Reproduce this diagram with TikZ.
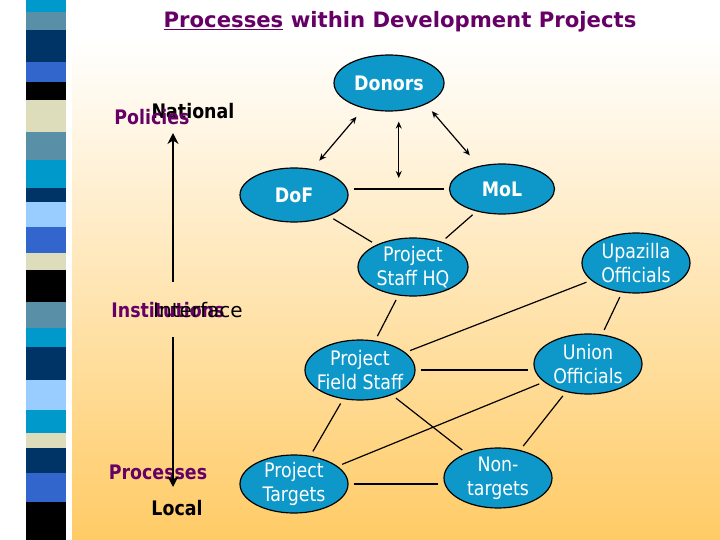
\documentclass[tikz,border=0pt]{standalone}
\usepackage{fontspec}
\setmainfont{DejaVu Sans}
\newfontfamily\tahoma[FakeStretch=0.87]{DejaVu Sans}
\usetikzlibrary{arrows.meta,shapes.geometric,calc}
\definecolor{projblue}{HTML}{0D98C9}
\definecolor{projpurple}{HTML}{660066}
\definecolor{bgorange}{HTML}{FFCB66}
\definecolor{bgpeach}{HTML}{FDE3C4}
\definecolor{stripcyan}{HTML}{0099CC}
\definecolor{stripsteel}{HTML}{5A8FA8}
\definecolor{stripnavy}{HTML}{003366}
\definecolor{stripblue}{HTML}{3366CC}
\definecolor{stripbeige}{HTML}{DDDDBB}
\definecolor{striplight}{HTML}{99CCFF}

\begin{document}
\begin{tikzpicture}[
  x=1pt, y=-1pt,
  utext/.style={text=white, align=center, inner sep=0pt,
                font=\tahoma\fontsize{20}{24}\selectfont},
  unit/.style={ellipse, draw=black, line width=1.2pt, fill=projblue,
               minimum width=108pt, minimum height=57pt, inner sep=0pt,
               label={[utext]center:#1}},
  unitb/.style={unit={\bfseries #1}},
  link/.style={black, line width=1.2pt, shorten <=5pt, shorten >=5pt},
  dbl/.style={{Stealth[length=7pt,width=6pt]}-{Stealth[length=7pt,width=6pt]},
              black, line width=1.2pt, shorten <=11pt, shorten >=11pt},
  axis/.style={-{Stealth[length=11pt,width=11pt]}, black, line width=2.8pt},
  lvl/.style={font=\tahoma\fontsize{20}{24}\selectfont\bfseries,
              inner sep=0pt, anchor=base},
  cat/.style={lvl, text=projpurple},
]
\useasboundingbox (0,0) rectangle (720,540);

% ---------------- slide background ----------------------------------
\fill[white] (0,0) rectangle (720,540);
\shade[top color=white, middle color=bgpeach, bottom color=bgorange]
  (72,40) rectangle (720,540);
\foreach \ya/\yb/\c in {0/12/stripcyan, 12/30/stripsteel, 30/62/stripnavy,
    62/82/stripblue, 82/100/black, 100/132/stripbeige, 132/160/stripsteel,
    160/188/stripcyan, 188/202/stripnavy, 202/227/striplight,
    227/253/stripblue, 253/270/stripbeige, 270/302/black,
    302/328/stripsteel, 328/347/stripcyan, 347/380/stripnavy,
    380/410/striplight, 410/433/stripcyan, 433/448/stripbeige,
    448/473/stripnavy, 473/502/stripblue, 502/540/black}
  \fill[\c] (26,\ya) rectangle (66,\yb);

\node[anchor=base, text=projpurple, inner sep=0pt,
      font=\fontsize{21.2}{25}\selectfont\bfseries] (title) at (400,28)
  {\underline{Processes} within Development Projects};

% ---------------- national / local axis -----------------------------
\node[lvl] (national) at (193,119) {National};
\node[cat] (policies) at (152,125) {Policies};
\node[cat] (institutions) at (168,317) {Institutions};
\node[lvl, font=\fontsize{20}{24}\selectfont] (interface) at (198,317) {Interface};
\node[cat] (processes) at (158,479) {Processes};
\node[lvl] (local) at (177,515) {Local};

\coordinate (axtop)  at (173,133);
\coordinate (axup)   at (173,282);
\coordinate (axdown) at (173,337);
\coordinate (axbot)  at (173,487);
\draw[axis] (axup) -- (axtop);
\draw[axis] (axdown) -- (axbot);

% ---------------- actors --------------------------------------------
\node[unitb=Donors, minimum width=110pt, minimum height=56pt] (donors) at (389,83) {};
\node[unitb=DoF, minimum height=54pt] (dof) at (294,195) {};
\node[unitb=MoL, minimum width=105pt, minimum height=50pt] (mol) at (502,189) {};
\node[unit={Project\\Staff HQ}, minimum width=110pt, minimum height=58pt] (hq) at (413,267) {};
\node[unit={Upazilla\\Officials}, minimum height=60pt] (upa) at (636,263) {};
\node[unit={Project\\Field Staff}, minimum width=110pt, minimum height=60pt] (field) at (360,370) {};
\node[unit={Union\\Officials}, minimum height=60pt] (union) at (588,364) {};
\node[unit={Project\\Targets}, minimum height=58pt] (targets) at (294,484) {};
\node[unit={Non-\\targets}, minimum height=60pt] (nontg) at (498,478) {};

% ---------------- links ---------------------------------------------
\draw[link] (dof.east |- mol) -- (mol.west);
\coordinate (hub) at ($(dof.east |- mol)!0.5!(mol.west)$);
\draw[dbl] (donors.-135) -- (dof.55);
\draw[dbl, shorten <=9pt, shorten >=14pt] (donors.-30) -- (mol.135);
\draw[dbl, shorten <=10pt] (donors.south -| hub) -- (hub);

\draw[link] (dof) -- (hq);
\draw[link] (mol) -- (hq);
\draw[link] (hq) -- (field);
\draw[link] (upa) -- (field);
\draw[link] (upa) -- (union);
\draw[link] (field.east) -- (union.west |- field);
\draw[link] (field) -- (targets);
\draw[link] (field) -- (nontg);
\draw[link] (union) -- (targets);
\draw[link] (union) -- (nontg);
\draw[link] (targets.east) -- (nontg.west |- targets);

\end{tikzpicture}
\end{document}
